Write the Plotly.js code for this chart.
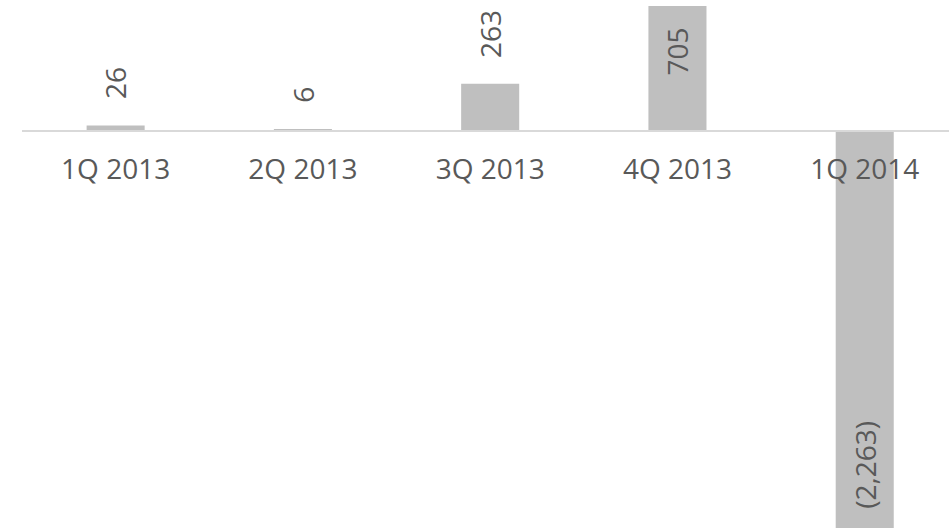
<!DOCTYPE html>
<html>
<head>
<meta charset="utf-8">
<script src="https://cdn.plot.ly/plotly-3.0.1.min.js"></script>
<style>
  html, body { margin: 0; padding: 0; background: #fff; }
  #chart { width: 949px; height: 529px; }
</style>
</head>
<body>
<div id="chart"></div>
<script>
const categories = ['1Q 2013', '2Q 2013', '3Q 2013', '4Q 2013', '1Q 2014'];
const values = [26, 6, 263, 705, -2263];

const yRange = [-2268, 739];
const chartH = 529;
const pxPerUnit = chartH / (yRange[1] - yRange[0]);
const textColor = '#595959';
const font = { family: 'Open Sans, sans-serif', size: 28, color: textColor };

// excel style numbers, negatives in brackets
function fmt(v) {
  const s = Math.abs(v).toLocaleString('en-US');
  return v < 0 ? '(' + s + ')' : s;
}

const data = [
  {
    x: categories,
    y: values,
    type: 'bar',
    marker: { color: '#bfbfbf' },
    hoverinfo: 'none'
  }
];

// labels: outside end if there is room, otherwise inside end
const annotations = values.map(function (v, i) {
  const txt = fmt(v);
  const room = (txt.length * 16 + 25) / pxPerUnit;
  const outside = v > 0 && v + room < yRange[1];
  let yanchor, yshift;
  if (outside) {
    yanchor = 'bottom'; yshift = 24;
  } else if (v > 0) {
    yanchor = 'top'; yshift = -19;
  } else {
    yanchor = 'bottom'; yshift = 17;
  }
  return {
    x: categories[i],
    y: v,
    xref: 'x',
    yref: 'y',
    text: txt,
    textangle: -90,
    showarrow: false,
    xanchor: 'center',
    yanchor: yanchor,
    yshift: yshift,
    font: font
  };
});

const layout = {
  width: 949,
  height: chartH,
  margin: { l: 22, r: 0, t: 0, b: 0 },
  paper_bgcolor: '#ffffff',
  plot_bgcolor: '#ffffff',
  showlegend: false,
  bargap: 0.69,
  xaxis: {
    type: 'category',
    range: [-0.5, 4.45],
    anchor: 'free',
    position: -yRange[0] / (yRange[1] - yRange[0]),
    showgrid: false,
    zeroline: false,
    showline: true,
    linecolor: '#d9d9d9',
    linewidth: 1.5,
    ticks: '',
    ticklabelstandoff: 14,
    tickfont: font,
    fixedrange: true
  },
  yaxis: {
    range: yRange,
    visible: false,
    showgrid: false,
    zeroline: false,
    fixedrange: true
  },
  annotations: annotations
};

Plotly.newPlot('chart', data, layout, { staticPlot: true, displayModeBar: false });
</script>
</body>
</html>
